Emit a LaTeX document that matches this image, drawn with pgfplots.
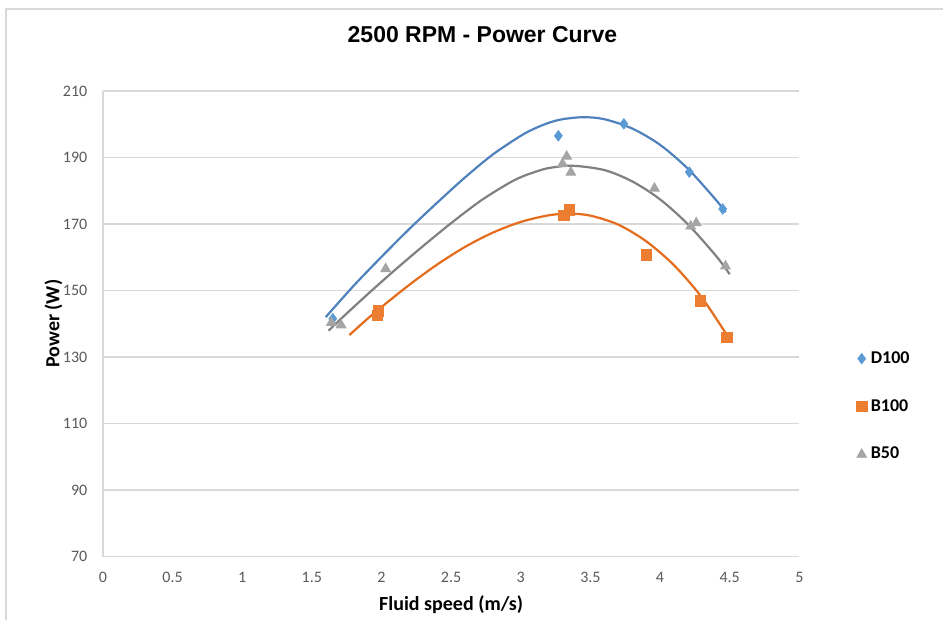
\documentclass[border=0pt]{standalone}
\usepackage{fontspec}
\setmainfont{Carlito}
\newfontfamily\lsans{Liberation Sans}
\usepackage{pgfplots}
\pgfplotsset{compat=1.18}

\definecolor{cBlue}{HTML}{5B9BD5}
\definecolor{cBlueL}{HTML}{4F81BD}
\definecolor{cOrange}{HTML}{ED7D31}
\definecolor{cOrangeL}{HTML}{E46C1C}
\definecolor{cGray}{HTML}{A5A5A5}
\definecolor{cGrayL}{HTML}{808080}
\definecolor{gridc}{HTML}{D9D9D9}
\definecolor{txt}{HTML}{595959}

\pgfplotsset{
  legend image code/.code={\draw[#1,only marks] plot coordinates {(0bp,0bp)};}
}

\begin{document}
\begin{tikzpicture}
\begin{axis}[
  at={(0,0)}, anchor=south west,
  scale only axis,
  width=348.5bp, height=233bp,
  xmin=0, xmax=5, ymin=70, ymax=210,
  enlargelimits=false,
  xtick={0,0.5,1,1.5,2,2.5,3,3.5,4,4.5,5},
  xticklabels={0,0.5,1,1.5,2,2.5,3,3.5,4,4.5,5},
  ytick={70,90,110,130,150,170,190,210},
  major tick length=0pt,
  axis x line*=bottom, axis y line*=left,
  axis line style={draw=gridc, line width=0.6bp},
  ymajorgrids=true,
  grid style={draw=gridc, line width=0.6bp},
  tick label style={font=\fontsize{8bp}{9.6bp}\selectfont, text=txt},
  /pgf/number format/assume math mode=true,
  xticklabel style={anchor=center, yshift=-10.5bp},
  yticklabel style={anchor=east, xshift=-4.3bp},
  title={2500 RPM - Power Curve},
  title style={font=\lsans\bfseries\fontsize{11.5bp}{13bp}\selectfont,
    at={(axis description cs:0.545,1.096)}, anchor=center},
  xlabel={Fluid speed (m/s)},
  ylabel={Power (W)},
  xlabel style={font=\bfseries\fontsize{10bp}{12bp}\selectfont,
    at={(axis description cs:0.5,-0.103)}, anchor=center},
  ylabel style={font=\bfseries\fontsize{10bp}{12bp}\selectfont,
    at={(axis description cs:-0.071,0.5)}, anchor=center, rotate=0},
  legend style={at={(axis description cs:1.073,0.322)}, anchor=west,
    draw=none, fill=none, row sep=12.6bp,
    font=\bfseries\fontsize{9bp}{10.5bp}\selectfont,
    /tikz/every even column/.append style={column sep=3bp}},
  legend cell align=left,
]
% trendlines
\addplot[cBlueL, line width=1.1bp, smooth, forget plot] coordinates {
  (1.60,142.0)(1.80,151.4)(2.00,160.1)(2.20,168.5)(2.40,176.4)(2.60,184.0)
  (2.80,190.9)(3.00,196.5)(3.10,198.7)(3.20,200.4)(3.30,201.5)(3.45,202.1)
  (3.60,201.5)(3.80,198.7)(4.00,193.8)(4.20,186.6)(4.40,177.3)(4.47,173.5)};
\addplot[cOrangeL, line width=1.1bp, smooth, forget plot] coordinates {
  (1.77,136.6)(1.90,141.5)(2.00,145.0)(2.20,151.7)(2.40,157.8)(2.60,163.1)
  (2.80,167.4)(3.00,170.6)(3.20,172.6)(3.35,173.1)(3.50,172.5)(3.70,169.8)
  (3.90,164.8)(4.10,157.6)(4.30,147.9)(4.50,135.3)};
\addplot[cGrayL, line width=1.1bp, smooth, forget plot] coordinates {
  (1.62,137.9)(1.72,141.9)(1.92,149.6)(2.12,157.0)(2.32,164.1)(2.52,170.9)
  (2.72,177.2)(2.92,182.4)(3.02,184.4)(3.10,185.6)(3.20,186.8)(3.37,187.5)
  (3.60,186.2)(3.80,182.8)(4.00,177.4)(4.20,169.9)(4.40,160.5)(4.50,154.9)};
% measured points
\addplot[only marks, mark=diamond*, mark size=2.6bp, color=cBlue] coordinates {
  (1.65,141.5)(3.27,196.5)(3.74,200.1)(4.21,185.6)(4.45,174.5)};
\addlegendentry{D100}
\addplot[only marks, mark=square*, mark size=2.6bp, color=cOrange] coordinates {
  (1.97,142.5)(1.98,143.8)(3.31,172.6)(3.35,174.2)(3.90,160.7)(4.29,146.9)(4.48,135.8)};
\addlegendentry{B100}
\addplot[only marks, mark=triangle*, mark size=2.8bp, color=cGray] coordinates {
  (1.64,140.3)(1.71,139.6)(2.03,156.5)(3.30,188.1)(3.33,190.3)(3.36,185.5)
  (3.96,180.7)(4.22,169.3)(4.26,170.3)(4.47,157.3)};
\addlegendentry{B50}
\end{axis}
\draw[gridc, line width=0.8bp] (-48.5bp,-32bp) -- (-48.5bp,274bp) -- (420.5bp,274bp);
\path (-51.5bp,-32bp) rectangle (420.5bp,278.5bp);
\end{tikzpicture}
\end{document}
